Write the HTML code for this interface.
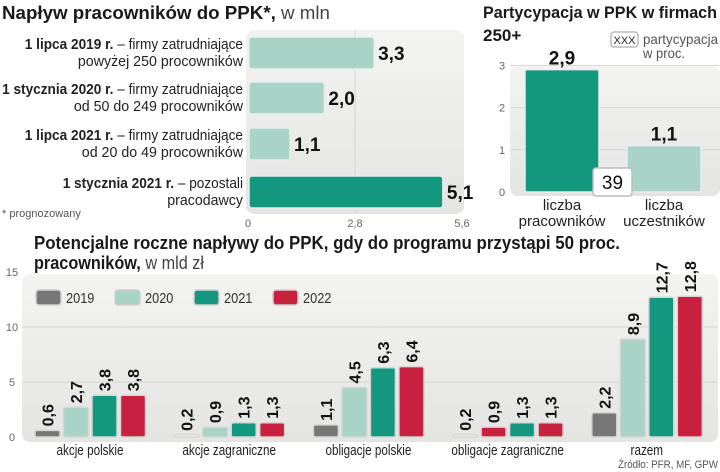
<!DOCTYPE html>
<html><head><meta charset="utf-8"><style>
html,body{margin:0;padding:0;background:#fff;}
svg{display:block;font-family:"Liberation Sans Narrow","Liberation Sans",sans-serif;}
</style></head><body>
<svg id="s" width="720" height="472" viewBox="0 0 720 472" xmlns="http://www.w3.org/2000/svg">
<defs>
<linearGradient id="bg" x1="0" y1="0" x2="0" y2="1"><stop offset="0" stop-color="#f3f3f2"/><stop offset="1" stop-color="#e4e4e2"/></linearGradient>
</defs>
<!-- chart 1 -->
<text x="2" y="19" font-size="18" font-weight="bold" fill="#1a1a1a" textLength="328" lengthAdjust="spacingAndGlyphs">Napływ pracowników do PPK*,<tspan font-weight="normal" fill="#444"> w mln</tspan></text>
<rect x="246" y="30" width="218" height="184" rx="8" fill="url(#bg)"/>
<g id="c1"></g>
<text x="2" y="217" font-size="11" fill="#555">* prognozowany</text>
<!-- chart 2 -->
<text x="483" y="18" font-size="17" font-weight="bold" fill="#1a1a1a" textLength="234" lengthAdjust="spacingAndGlyphs">Partycypacja w PPK w firmach</text>
<text x="483" y="41" font-size="17" font-weight="bold" fill="#1a1a1a">250+</text>
<rect x="611" y="32" width="27" height="15" rx="3" fill="#fff" stroke="#bbb" stroke-width="1.5"/>
<text x="624.5" y="44" font-size="11" text-anchor="middle" fill="#222">XXX</text>
<text x="643" y="44" font-size="14" fill="#555" textLength="75" lengthAdjust="spacingAndGlyphs">partycypacja</text>
<text x="643" y="58" font-size="14" fill="#555" textLength="42" lengthAdjust="spacingAndGlyphs">w proc.</text>
<rect x="510" y="66" width="210" height="130" rx="8" fill="url(#bg)"/>
<g id="c2"></g>
<!-- chart 3 -->
<text x="34" y="249" font-size="18" font-weight="bold" fill="#1a1a1a" textLength="586" lengthAdjust="spacingAndGlyphs">Potencjalne roczne napływy do PPK, gdy do programu przystąpi 50 proc.</text>
<text x="34" y="269" font-size="18" font-weight="bold" fill="#1a1a1a" textLength="170" lengthAdjust="spacingAndGlyphs">pracowników,<tspan font-weight="normal" fill="#444"> w mld zł</tspan></text>
<rect x="22" y="274" width="696" height="168" rx="8" fill="url(#bg)"/>
<g id="c3"></g>
<text x="718" y="468" font-size="11" text-anchor="end" fill="#555" textLength="100" lengthAdjust="spacingAndGlyphs">Źródło: PFR, MF, GPW</text>
</svg>
<script>
// chart 1 data
const c1Labels = [["1 lipca 2019 r.","– firmy zatrudniające","powyżej 250 procowników"],["1 stycznia 2020 r.","– firmy zatrudniające","od 50 do 249 procowników"],["1 lipca 2021 r.","– firmy zatrudniające","od 20 do 49 procowników"],["1 stycznia 2021 r.","– pozostali","pracodawcy"]];
const c1Values = [3.3, 2.0, 1.1, 5.1];
const c1ValueText = ["3,3","2,0","1,1","5,1"];
const c1Ticks = [0, 2.8, 5.6];
const c1TickText = ["0","2,8","5,6"];
// chart 2 data
const c2Cats = [["liczba","pracowników"],["liczba","uczestników"]];
const c2Values = [2.9, 1.1];
const c2ValueText = ["2,9","1,1"];
const c2Ticks = [0,1,2,3];
const c2Participation = "39";
// chart 3 data
const c3Cats = ["akcje polskie","akcje zagraniczne","obligacje polskie","obligacje zagraniczne","razem"];
const c3Years = ["2019","2020","2021","2022"];
const c3V2019 = [0.6, 0.2, 1.1, 0.2, 2.2];
const c3V2020 = [2.7, 0.9, 4.5, 0.9, 8.9];
const c3V2021 = [3.8, 1.3, 6.3, 1.3, 12.7];
const c3V2022 = [3.8, 1.3, 6.4, 1.3, 12.8];
const c3Ticks = [0,5,10,15];

const NS="http://www.w3.org/2000/svg";
function mk(parent,tag,attrs,text){const e=document.createElementNS(NS,tag);for(const k in attrs)e.setAttribute(k,attrs[k]);if(text!==undefined)e.textContent=text;parent.appendChild(e);return e;}
function squeeze(el,f){const w=el.getComputedTextLength();el.setAttribute('textLength',(w*f).toFixed(1));el.setAttribute('lengthAdjust','spacingAndGlyphs');}
const fmt=v=>v.toFixed(1).replace('.',',');
const light="#a8d3c6", teal="#14977f", grey="#777", red="#c8203f";

// chart 1
(function(){
 const g=document.getElementById('c1');
 const x=v=>248+v*(214/5.6);
 c1Ticks.forEach((t,i)=>{
  if(i===1){const l=mk(g,'line',{x1:x(t),x2:x(t),y1:30,y2:214,stroke:'#d4d4d2'});}
  const tx=mk(g,'text',{x:x(t),y:227,'font-size':11,'text-anchor':'middle',fill:'#666'},c1TickText[i]);
  
 });
 const ys=[37,82,128,176];
 c1Values.forEach((v,i)=>{
  const y=ys[i];
  const r=mk(g,'rect',{x:249,y:y,width:x(v)-249,height:32,rx:3,fill:i===3?teal:light,stroke:'#e8eeec','stroke-width':1.5});
  
  const vt=mk(g,'text',{x:x(v)+4,y:y+23,'font-size':19,'font-weight':'bold',fill:'#111'},c1ValueText[i]);
  
  const l1=mk(g,'text',{x:243,y:y+12,'font-size':14.5,'text-anchor':'end',fill:'#222'});
  
  mk(l1,'tspan',{'font-weight':'bold'},c1Labels[i][0]);
  mk(l1,'tspan',{},' '+c1Labels[i][1]);
  squeeze(l1,0.94);
  const l2=mk(g,'text',{x:243,y:y+29,'font-size':14.5,'text-anchor':'end',fill:'#222'},c1Labels[i][2]);
  
  squeeze(l2,0.98);
 });
})();

// chart 2
(function(){
 const g=document.getElementById('c2');
 const y=v=>192-v*42.2;
 c2Ticks.forEach(t=>{
  if(t>0){const l=mk(g,'line',{x1:510,x2:720,y1:y(t),y2:y(t),stroke:'#d4d4d2'});}
  const tx=mk(g,'text',{x:502,y:y(t)+4,'font-size':11,'text-anchor':'middle',fill:'#666'},String(t));
  
 });
 const xs=[525,627];
 c2Values.forEach((v,i)=>{
  const r=mk(g,'rect',{x:xs[i],y:y(v),width:74,height:192-y(v),rx:2,fill:i===0?teal:light,stroke:'#e8eeec','stroke-width':1.5});
  
  const vt=mk(g,'text',{x:xs[i]+37,y:y(v)-5,'font-size':19,'font-weight':'bold','text-anchor':'middle',fill:'#111'},c2ValueText[i]);
  
  c2Cats[i].forEach((s,j)=>{const t=mk(g,'text',{x:xs[i]+37,y:210+j*16,'font-size':15,'text-anchor':'middle',fill:'#222'},s);});
 });
 const b=mk(g,'rect',{x:593,y:168,width:39,height:28,rx:3,fill:'#fff',stroke:'#bbb','stroke-width':1.5});
 
 const bt=mk(g,'text',{x:612.5,y:189,'font-size':19,'text-anchor':'middle',fill:'#111'},c2Participation);
 
})();

// chart 3
(function(){
 const g=document.getElementById('c3');
 const y=v=>437-v*11;
 const series=[c3V2019,c3V2020,c3V2021,c3V2022];
 const colors=[grey,light,teal,red];
 c3Ticks.forEach(t=>{
  if(t>0&&t<15){const l=mk(g,'line',{x1:22,x2:718,y1:y(t),y2:y(t),stroke:'#d4d4d2'});}
  const tx=mk(g,'text',{x:12,y:y(t)+4,'font-size':11,'text-anchor':'middle',fill:'#666'},String(t));
  
 });
 const lx=[36,115,194,273];
 c3Years.forEach((yr,i)=>{
  const r=mk(g,'rect',{x:lx[i],y:290,width:25,height:15,rx:3,fill:colors[i],stroke:'#d0d0ce','stroke-width':1.5});
  
  const t=mk(g,'text',{x:lx[i]+30,y:303,'font-size':15,fill:'#333'},yr);
  
  squeeze(t,0.85);
 });
 c3Cats.forEach((c,ci)=>{
  const cx=90+ci*139.2;
  series.forEach((s,si)=>{
   const v=s[ci];
   const bx=cx-55+si*28.5;
   let col=colors[si];
   if(ci===1&&si===0||ci===3&&si===0) col='#fafafa';
   if(ci===3&&si===1) col=red;
   const r=mk(g,'rect',{x:bx,y:y(v),width:25,height:437-y(v),rx:2,fill:col,stroke:'#d6d6d4','stroke-width':1.5});
   
   const tx=bx+12.5+6, ty=y(v)-4;
   const t=mk(g,'text',{x:tx,y:ty,'font-size':16,'font-weight':'bold',fill:'#111',transform:`rotate(-90 ${tx} ${ty})`},fmt(v));
   
  });
  const t=mk(g,'text',{x:cx,y:455,'font-size':15,'text-anchor':'middle',fill:'#222'},c);
  
  squeeze(t,0.78);
 });
})();
</script>
</body></html>
